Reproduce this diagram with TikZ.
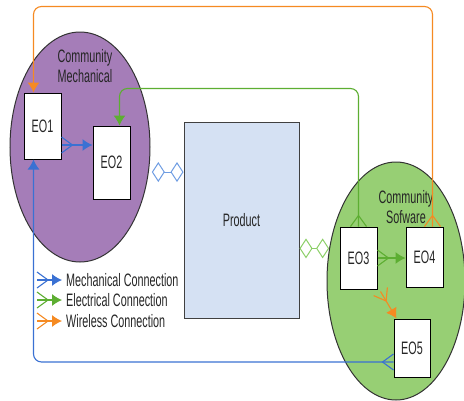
\documentclass[tikz,border=0pt]{standalone}
\usepackage{fontspec}
\usepackage{tikz}
\usetikzlibrary{arrows.meta,shapes.geometric,decorations.markings}
\newfontfamily\narrowsans[FakeStretch=0.6]{Liberation Sans}

\definecolor{mechpurple}{HTML}{A57DB8}
\definecolor{softgreen}{HTML}{97CF74}
\definecolor{prodblue}{HTML}{D5E1F3}
\definecolor{mechblue}{HTML}{3A71D3}
\definecolor{elecgreen}{HTML}{5DAE32}
\definecolor{wireorange}{HTML}{F58A22}
\definecolor{linkblue}{HTML}{6F9DE2}
\definecolor{linkgreen}{HTML}{8CCF68}

\tikzset{
  eobox/.style={draw=black, fill=white, line width=1pt, minimum width=37pt, inner sep=0pt},
  community/.style={ellipse, draw=black!80, line width=1pt, inner sep=0pt},
  crowfoot/.style={postaction={decorate},
    decoration={markings, mark=at position 0 with {\draw[-, sharp corners] (0,8pt) -- (11pt,0) -- (0,-8pt);}}},
  conn/.style={line width=1.1pt, -{Latex[length=10pt,width=12pt]}, crowfoot},
  mechline/.style={conn, mechblue},
  elecline/.style={conn, elecgreen},
  wireline/.style={conn, wireorange},
  linkline/.style={line width=1pt, {Diamond[open,length=13pt,width=20pt]}-{Diamond[open,length=13pt,width=20pt]}},
  legtext/.style={anchor=west, inner sep=0pt},
}

\begin{document}
\begin{tikzpicture}[x=1pt, y=-1pt, font=\narrowsans\fontsize{18}{20}\selectfont, text=black!85]
  \useasboundingbox (0,0) rectangle (464,400);
  % communities
  \node[community, fill=mechpurple, minimum width=140pt, minimum height=230pt] (mech) at (80,147) {};
  \node[community, fill=softgreen, minimum width=138pt, minimum height=238pt] (soft) at (396,281) {};
  \node[align=center] (mechname) at (85,66) {Community\\Mechanical};
  \node[align=center] (softname) at (406,207) {Community\\Sofware};
  % product
  \node[draw=black!75, fill=prodblue, line width=1pt, minimum width=115pt, minimum height=196pt] (prod) at (241.5,220) {Product};
  % elements
  \node[eobox, minimum height=66pt] (eo1) at (42.5,126) {EO1};
  \node[eobox, minimum height=73pt] (eo2) at (111.5,162.5) {EO2};
  \node[eobox, minimum height=62pt] (eo3) at (358.5,258) {EO3};
  \node[eobox, minimum height=60pt] (eo4) at (424.5,257) {EO4};
  \node[eobox, minimum width=36pt, minimum height=58pt] (eo5) at (412,348) {EO5};
  % links to the product
  \draw[linkline, linkblue, shorten <=3pt] (mech.-20) -- (mech.-20 -| prod.west);
  \draw[linkline, linkgreen] (prod.east |- soft.154) -- (soft.154);
  % connections
  \coordinate (eo12) at ([yshift=-19pt]eo1.east);
  \draw[mechline] (eo12) -- (eo12 -| eo2.west);
  \draw[elecline] (eo3.east) -- (eo3.east -| eo4.west);
  \draw[wireline] ([shift={(3pt,-2pt)}]eo3.south east) -- ([xshift=3pt]eo5.north west);
  \draw[mechline, rounded corners=8pt] ([yshift=-14pt]eo5.west) -| ([xshift=-9pt]eo1.south);
  \draw[elecline, rounded corners=8pt] (eo3.north) -- ++(0,-138) -| ([xshift=8pt]eo2.north);
  \draw[wireline, rounded corners=8pt] ([xshift=8pt]eo4.north) -- ++(0,-220) -| ([xshift=-9pt]eo1.north);
  % legend
  \node[legtext] (lmech) at (66,280) {Mechanical Connection};
  \node[legtext] (lelec) at (66,300) {Electrical Connection};
  \node[legtext] (lwire) at (66,321) {Wireless Connection};
  \draw[mechline] ([xshift=-29pt]lmech.west) -- ([xshift=-4pt]lmech.west);
  \draw[elecline] ([xshift=-29pt]lelec.west) -- ([xshift=-4pt]lelec.west);
  \draw[wireline] ([xshift=-29pt]lwire.west) -- ([xshift=-4pt]lwire.west);
\end{tikzpicture}
\end{document}
